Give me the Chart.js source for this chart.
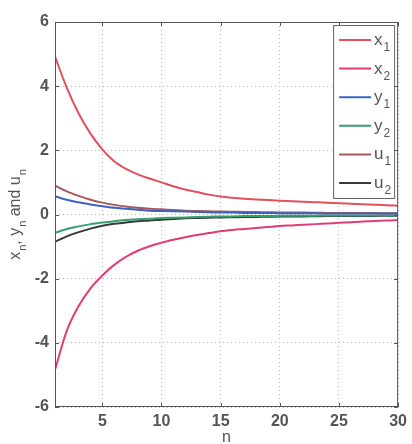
<!DOCTYPE html>
<html>
<head>
<meta charset="utf-8">
<script src="https://cdn.jsdelivr.net/npm/chart.js@4/dist/chart.umd.min.js"></script>
<style>
    html, body { margin: 0; background: #fff; }
</style>
</head>
<body>
<canvas id="seqChart" width="412" height="444"></canvas>
<script>
const nValues = [1, 2, 3, 4, 5, 6, 7, 8, 9, 10, 11, 12, 13, 14, 15,
                 16, 17, 18, 19, 20, 21, 22, 23, 24, 25, 26, 27, 28, 29, 30];

const x1Values = [4.92, 3.95, 3.15, 2.52, 2.03, 1.66, 1.42, 1.25, 1.12, 1.0,
                  0.88, 0.78, 0.7, 0.62, 0.56, 0.52, 0.49, 0.47, 0.45, 0.43,
                  0.415, 0.4, 0.385, 0.37, 0.35, 0.335, 0.32, 0.305, 0.29, 0.27];
const x2Values = [-4.84, -3.62, -2.85, -2.3, -1.9, -1.57, -1.32, -1.13, -0.99, -0.88,
                  -0.79, -0.71, -0.64, -0.58, -0.52, -0.48, -0.45, -0.42, -0.39, -0.36,
                  -0.34, -0.32, -0.3, -0.28, -0.26, -0.24, -0.22, -0.2, -0.19, -0.17];
const y1Values = [0.57, 0.46, 0.38, 0.31, 0.26, 0.21, 0.18, 0.15, 0.12, 0.11,
                  0.1, 0.09, 0.08, 0.07, 0.06, 0.06, 0.05, 0.05, 0.05, 0.04,
                  0.04, 0.04, 0.04, 0.03, 0.03, 0.03, 0.03, 0.03, 0.03, 0.03];
const y2Values = [-0.57, -0.45, -0.37, -0.3, -0.25, -0.21, -0.17, -0.15, -0.13, -0.11,
                  -0.1, -0.09, -0.08, -0.07, -0.06, -0.06, -0.05, -0.05, -0.05, -0.04,
                  -0.04, -0.04, -0.04, -0.03, -0.03, -0.03, -0.03, -0.03, -0.03, -0.03];
const u1Values = [0.9, 0.72, 0.58, 0.46, 0.37, 0.3, 0.25, 0.21, 0.18, 0.16,
                  0.14, 0.12, 0.11, 0.1, 0.09, 0.085, 0.08, 0.075, 0.07, 0.065,
                  0.06, 0.06, 0.055, 0.05, 0.05, 0.05, 0.045, 0.045, 0.04, 0.04];
const u2Values = [-0.85, -0.68, -0.55, -0.44, -0.35, -0.29, -0.25, -0.21, -0.19, -0.16,
                  -0.14, -0.12, -0.11, -0.1, -0.09, -0.085, -0.08, -0.075, -0.07, -0.065,
                  -0.06, -0.06, -0.055, -0.05, -0.05, -0.05, -0.045, -0.045, -0.04, -0.04];

const xTicks = [5, 10, 15, 20, 25, 30];
const yTicks = [-6, -4, -2, 0, 2, 4, 6];

const seriesNames = [["x", "1"], ["x", "2"], ["y", "1"], ["y", "2"], ["u", "1"], ["u", "2"]];
const seriesColors = ["#e3505c", "#e23c78", "#3a64c0", "#35a070", "#a8585a", "#3a3a3a"];
const seriesValues = [x1Values, x2Values, y1Values, y2Values, u1Values, u2Values];

const FONT = "'Liberation Sans', Arial, sans-serif";
const TEXT = "#555";

// letter followed by a lowered smaller subscript, returns the width used
function drawSub(ctx, base, sub, x, y, size, dry) {
    ctx.font = `${size}px ${FONT}`;
    const w1 = ctx.measureText(base).width;
    if (!dry) ctx.fillText(base, x, y);
    ctx.font = `${Math.round(size * 0.7)}px ${FONT}`;
    const w2 = ctx.measureText(sub).width;
    if (!dry) ctx.fillText(sub, x + w1 + 1, y + size * 0.35);
    return w1 + 1 + w2;
}

const framePlugin = {
    id: "frame",
    afterDraw(chart) {
        const { ctx, chartArea: a, scales } = chart;
        ctx.save();

        // box and inward ticks
        ctx.strokeStyle = "#555";
        ctx.lineWidth = 1;
        ctx.strokeRect(a.left + 0.5, a.top + 0.5, a.right - a.left - 1, a.bottom - a.top - 1);
        ctx.beginPath();
        xTicks.forEach(v => {
            const px = Math.round(scales.x.getPixelForValue(v)) + 0.5;
            ctx.moveTo(px, a.bottom); ctx.lineTo(px, a.bottom - 4);
            ctx.moveTo(px, a.top); ctx.lineTo(px, a.top + 4);
        });
        yTicks.forEach(v => {
            const py = Math.round(scales.y.getPixelForValue(v)) + 0.5;
            ctx.moveTo(a.left, py); ctx.lineTo(a.left + 4, py);
            ctx.moveTo(a.right, py); ctx.lineTo(a.right - 4, py);
        });
        ctx.stroke();

        // legend box
        const lx = a.right - 65, ly = a.top + 3, lw = 61, lh = 173;
        ctx.fillStyle = "#fff";
        ctx.fillRect(lx, ly, lw, lh);
        ctx.strokeStyle = "#666";
        ctx.strokeRect(lx + 0.5, ly + 0.5, lw, lh);
        ctx.textBaseline = "alphabetic";
        seriesNames.forEach((name, i) => {
            const y = ly + 15 + i * 28.6;
            ctx.strokeStyle = seriesColors[i];
            ctx.lineWidth = 2;
            ctx.beginPath();
            ctx.moveTo(lx + 6, y); ctx.lineTo(lx + 38, y);
            ctx.stroke();
            ctx.fillStyle = TEXT;
            drawSub(ctx, name[0], name[1], lx + 41, y + 5, 17);
        });

        // y axis title
        ctx.translate(15, (a.top + a.bottom) / 2);
        ctx.rotate(-Math.PI / 2);
        ctx.fillStyle = TEXT;
        const parts = [["x", "n", ", "], ["y", "n", " and "], ["u", "n", ""]];
        let total = 0;
        parts.forEach(p => {
            total += drawSub(ctx, p[0], p[1], 0, 0, 16, true);
            ctx.font = `16px ${FONT}`;
            total += ctx.measureText(p[2]).width;
        });
        let cx = -total / 2;
        parts.forEach(p => {
            cx += drawSub(ctx, p[0], p[1], cx, 5, 16);
            ctx.font = `16px ${FONT}`;
            ctx.fillText(p[2], cx, 5);
            cx += ctx.measureText(p[2]).width;
        });

        ctx.restore();
    }
};

new Chart(document.getElementById("seqChart"), {
    type: "line",
    data: {
        labels: nValues,
        datasets: seriesValues.map((vals, i) => ({
            label: seriesNames[i].join(""),
            data: vals.map((v, k) => ({ x: nValues[k], y: v })),
            borderColor: seriesColors[i],
            borderWidth: 2,
            pointRadius: 0,
            cubicInterpolationMode: "monotone",
            fill: false
        }))
    },
    options: {
        responsive: false,
        animation: false,
        devicePixelRatio: 1,
        layout: { padding: { top: 22, right: 8, left: 0, bottom: 0 } },
        plugins: {
            legend: { display: false },
            tooltip: { enabled: false }
        },
        scales: {
            x: {
                type: "linear",
                min: 1,
                max: 30,
                afterBuildTicks: scale => {
                    scale.ticks = xTicks.map(v => ({ value: v }));
                },
                afterFit: scale => { scale.height = 37; },
                grid: {
                    color: "#bbb",
                    lineWidth: 1,
                    drawTicks: false
                },
                border: { display: false, dash: [1, 3] },
                ticks: {
                    padding: 5,
                    color: TEXT,
                    font: { family: FONT, size: 16, weight: "bold" }
                },
                title: {
                    display: true,
                    text: "n",
                    color: TEXT,
                    padding: { top: 0, bottom: -3 },
                    font: { family: FONT, size: 16 }
                }
            },
            y: {
                min: -6,
                max: 6,
                afterBuildTicks: scale => {
                    scale.ticks = yTicks.map(v => ({ value: v }));
                },
                afterFit: scale => { scale.width = 55; },
                grid: {
                    color: "#bbb",
                    lineWidth: 1,
                    drawTicks: false
                },
                border: { display: false, dash: [1, 3] },
                ticks: {
                    padding: 6,
                    color: TEXT,
                    font: { family: FONT, size: 16, weight: "bold" }
                }
            }
        }
    },
    plugins: [framePlugin]
});
</script>
</body>
</html>
